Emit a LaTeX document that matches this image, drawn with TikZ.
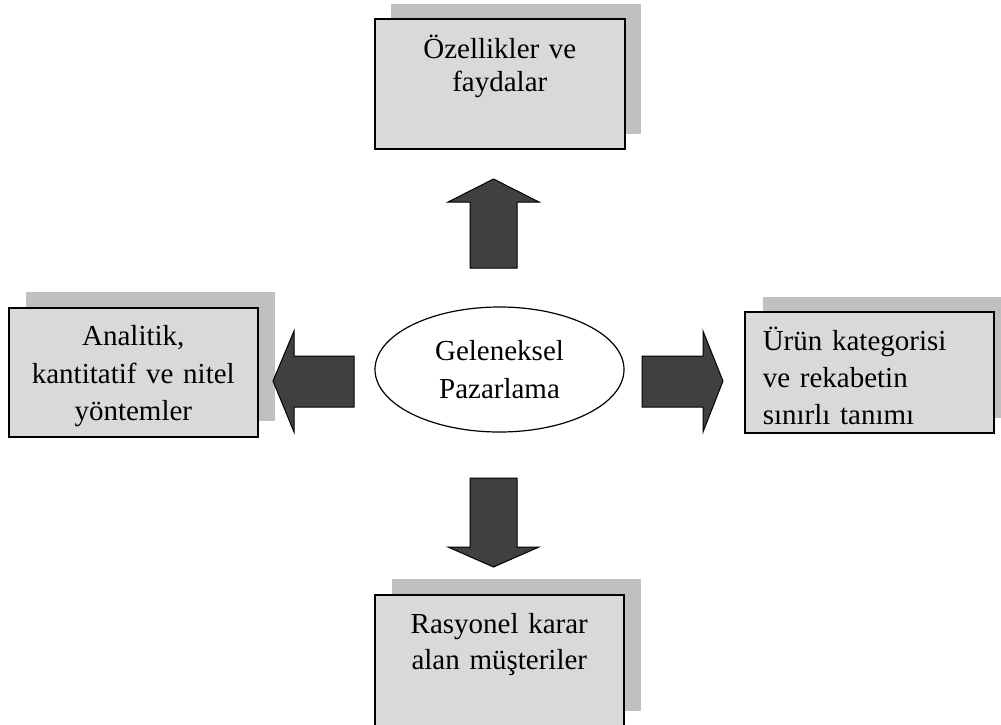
\documentclass[tikz,border=0pt]{standalone}
\usepackage{fontspec}
\setmainfont{Liberation Serif}
\usetikzlibrary{shapes.geometric,shadows}
\definecolor{boxfill}{HTML}{D9D9D9}
\definecolor{shadowfill}{HTML}{C0C0C0}
\definecolor{arrowfill}{HTML}{404040}
\tikzset{
  box/.style={draw=black, line width=1.6pt, fill=boxfill, inner sep=0pt,
    anchor=north west, font=\fontsize{29}{37}\selectfont},
  shadowed/.style 2 args={drop shadow={shadow xshift=#1, shadow yshift=#2,
    fill=shadowfill, opacity=1}},
  core/.style={ellipse, draw=black, line width=1.2pt, fill=white,
    minimum width=249pt, minimum height=125pt, inner sep=0pt,
    font=\fontsize{29}{38}\selectfont},
  blockarrow/.style={draw=black, line width=1pt, fill=arrowfill, line join=miter}
}
\begin{document}
\begin{tikzpicture}[x=1pt, y=-1pt]
\useasboundingbox (0,0) rectangle (1001,724);

% boxes
\node[box, text width=250pt, align=center, text height=39.3pt, text depth=90.7pt,
      font=\fontsize{29}{33.3}\selectfont, shadowed={16pt}{15pt}]
      (feat) at (374,18) {Özellikler ve\\faydalar};
\node[box, text width=249pt, align=center, text height=38pt, text depth=91pt,
      font=\fontsize{29}{37.5}\selectfont, shadowed={17pt}{16pt}]
      (meth) at (8,307) {Analitik,\\kantitatif ve nitel\\yöntemler};
\node[box, text width=213pt, inner xsep=18pt, align=left, text height=39pt, text depth=82pt,
      font=\fontsize{29}{36.7}\selectfont, shadowed={18pt}{15pt}]
      (cat) at (744,311) {Ürün kategorisi\\ve rekabetin\\sınırlı tanımı};
\node[box, text width=249pt, align=center, text height=38.3pt, text depth=93.7pt,
      font=\fontsize{29}{36.7}\selectfont, shadowed={17pt}{16pt}]
      (cust) at (374,594) {Rasyonel karar\\alan müşteriler};

% centre
\node[core, text height=20pt, text depth=39pt] (trad) at (499.5,369.5)
  {\begin{tabular}[t]{@{}c@{}}Geleneksel\\Pazarlama\end{tabular}};

% block arrows
\draw[blockarrow] (470,268) -- (470,202) -- (448,202) -- (493.5,179) -- (539,202)
  -- (517,202) -- (517,268) -- cycle;
\draw[blockarrow] (470,478) -- (470,547) -- (448,547) -- (493.5,567) -- (539,547)
  -- (517,547) -- (517,478) -- cycle;
\draw[blockarrow] (354,356) -- (294,356) -- (294,331) -- (273,381) -- (294,432)
  -- (294,407) -- (354,407) -- cycle;
\draw[blockarrow] (642,356) -- (703,356) -- (703,331) -- (723,381) -- (703,432)
  -- (703,407) -- (642,407) -- cycle;
\end{tikzpicture}
\end{document}
